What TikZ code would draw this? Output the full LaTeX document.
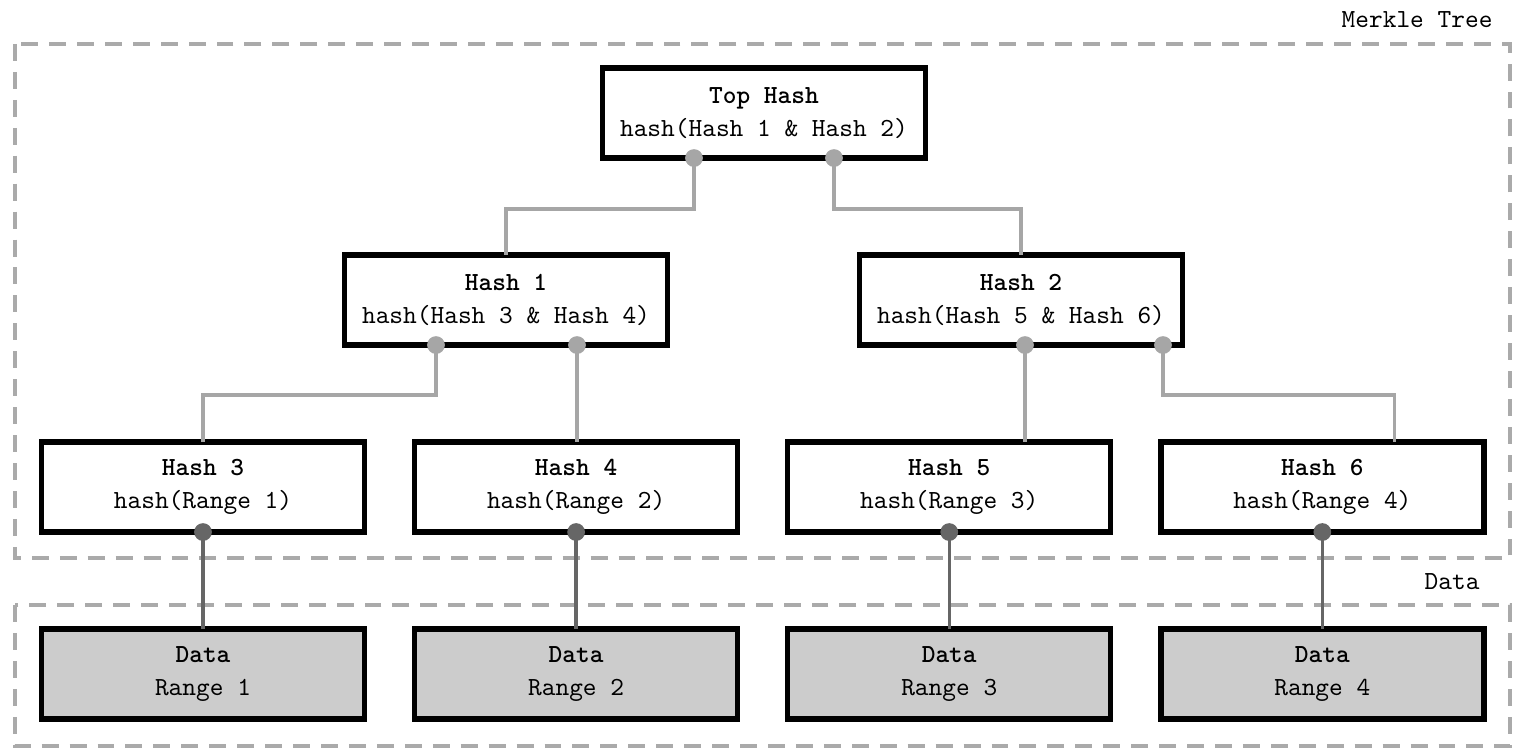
\documentclass[tikz,border=0pt]{standalone}
\usetikzlibrary{positioning, calc, shadows}

\definecolor{treegray}{HTML}{A6A6A6}
\definecolor{datagray}{HTML}{666666}
\definecolor{framegray}{HTML}{AAAAAA}
\definecolor{datafill}{HTML}{CCCCCC}

\begin{document}
\begin{tikzpicture}[x=0.383pt, y=-0.383pt, node distance=19.2pt,
    hashbox/.style={draw, line width=2.1pt, fill=white, outer sep=0pt,
      minimum width=123.7pt, minimum height=34.5pt, align=center,
      font={\ttfamily\fontsize{10}{12.7}\selectfont},
      drop shadow={opacity=0.2, shadow xshift=1pt, shadow yshift=-1pt}},
    databox/.style={hashbox, fill=datafill},
    tree/.style={draw=treegray, line width=1.3pt},
    leaf/.style={draw=datagray, line width=1.3pt},
    frame/.style={draw=framegray, line width=1.3pt, dash pattern=on 6.5pt off 4.2pt},
    framelabel/.style={anchor=east, inner sep=0pt, font=\ttfamily}]
    \useasboundingbox (0,0) rectangle (1521,756);

    % groups
    \draw[frame] (15,44) rectangle (1510,558);
    \draw[frame] (15,605) rectangle (1510,746);
    \node[framelabel] (treelabel) at (1493,20) {Merkle Tree};
    \node[framelabel] (datalabel) at (1480,582) {Data};

    % hashes
    \node[hashbox] (top) at (764,113) {\textbf{Top Hash}\\hash(Hash 1 \& Hash 2)};
    \node[hashbox] (h1) at (506,300) {\textbf{Hash 1}\\hash(Hash 3 \& Hash 4)};
    \node[hashbox] (h2) at (1021,300) {\textbf{Hash 2}\\hash(Hash 5 \& Hash 6)};
    \node[hashbox] (h3) at (203,487) {\textbf{Hash 3}\\hash(Range 1)};
    \node[hashbox, right=of h3] (h4) {\textbf{Hash 4}\\hash(Range 2)};
    \node[hashbox, right=of h4] (h5) {\textbf{Hash 5}\\hash(Range 3)};
    \node[hashbox, right=of h5] (h6) {\textbf{Hash 6}\\hash(Range 4)};

    % data
    \node[databox, below=37.1pt of h3] (r1) {\textbf{Data}\\Range 1};
    \node[databox, below=37.1pt of h4] (r2) {\textbf{Data}\\Range 2};
    \node[databox, below=37.1pt of h5] (r3) {\textbf{Data}\\Range 3};
    \node[databox, below=37.1pt of h6] (r4) {\textbf{Data}\\Range 4};

    % links
    \coordinate (t1) at ($(top.south)+(-70,0)$);
    \coordinate (t2) at ($(top.south)+(70,0)$);
    \coordinate (a1) at ($(h1.south)+(-70,0)$);
    \coordinate (a2) at ($(h1.south)+(71,0)$);
    \coordinate (b1) at ($(h2.south)+(4,0)$);
    \coordinate (b2) at ($(h2.south)+(142,0)$);

    \draw[tree] (t1) -- ++(0,51) -| (h1.north);
    \draw[tree] (t2) -- ++(0,51) -| (h2.north);
    \draw[tree] (a1) -- ++(0,50) -| (h3.north);
    \draw[tree] (a2) -- (a2 |- h4.north);
    \draw[tree] (b1) -- (b1 |- h5.north);
    \draw[tree] (b2) -- ++(0,50) -| ($(h6.north)+(72,0)$);
    \foreach \h/\r in {h3/r1, h4/r2, h5/r3, h6/r4}
      \draw[leaf] (\h.south) -- (\r.north);

    \foreach \c in {t1, t2, a1, a2, b1, b2}
      \fill[treegray] (\c) circle (3.4pt);
    \foreach \h in {h3, h4, h5, h6}
      \fill[datagray] (\h.south) circle (3.4pt);
\end{tikzpicture}
\end{document}
